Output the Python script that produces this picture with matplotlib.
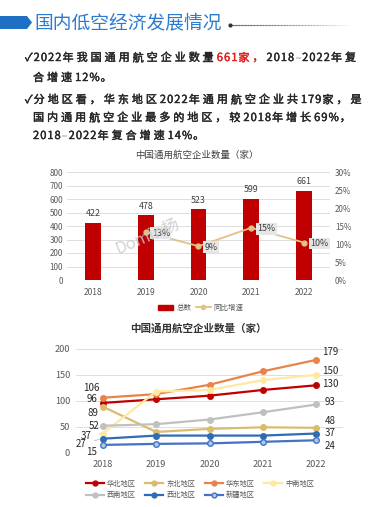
"""Low-altitude economy slide: general aviation company counts."""

import matplotlib

matplotlib.use("Agg")
import matplotlib.patheffects as pe
import matplotlib.pyplot as plt
import numpy as np
from matplotlib.lines import Line2D
from matplotlib.patches import Patch, Polygon

plt.rcParams["font.family"] = ["Noto Sans CJK SC", "DejaVu Sans"]

W, H = 380, 507

# ---- data ----
years = ["2018", "2019", "2020", "2021", "2022"]
total = [422, 478, 523, 599, 661]
growth_years = [1, 2, 3, 4]
growth = [13.3, 9.4, 14.5, 10.4]
growth_labels = ["13%", "9%", "15%", "10%"]

region_names = ["华北地区", "东北地区", "华东地区", "中南地区", "西南地区", "西北地区", "新疆地区"]
north = [96, 103, 110, 121, 130]
northeast = [89, 40, 46, 49, 48]
east = [106, 113, 131, 157, 179]
central_south = [37, 118, 121, 140, 150]
southwest = [52, 55, 64, 78, 93]
northwest = [27, 33, 33, 33, 37]
xinjiang = [15, 17, 18, 21, 24]

title = "国内低空经济发展情况"
chart_title = "中国通用航空企业数量（家）"

# ---- styles ----
region_colors = ["#C00000", "#D9BC6E", "#E8834A", "#FFE9A0", "#C0C0C0", "#2E6DB4", "#4472C4"]
# label offsets in pixels (dx, dy, leader line) for the 2018 and 2022 labels
first_off = [(-11, 4, False), (-10, -6, False), (-11, 10, False), (-17, -2, True),
             (-9, 0, False), (-22, -5, True), (-11, -7, False)]
last_off = [(14, 1, False), (14, 7, True), (14, 8, False), (14, 4, False),
            (14, 2, True), (14, 1, False), (14, -6, True)]

fig = plt.figure(figsize=(W / 100, H / 100), dpi=100)
renderer = fig.canvas.get_renderer()


def fx(px):
    return px / W


def fy(py):
    return 1 - py / H


def spaced(x, y, s, size, color, wide_gap=2.9, narrow_gap=1.0):
    """Draw text one character at a time; CJK glyphs get wider tracking."""
    for ch in s:
        t = fig.text(fx(x), fy(y), ch, fontsize=size, color=color, ha="left",
                     va="center",
                     path_effects=[pe.withStroke(linewidth=0.3, foreground=color)])
        gap = wide_gap if ord(ch) > 0x2FFF else narrow_gap
        x += t.get_window_extent(renderer).width + gap
    return x


# ---- header ----
fig.add_artist(Polygon([(fx(0), fy(16)), (fx(27), fy(16)), (fx(32), fy(22.5)),
                        (fx(27), fy(29)), (fx(0), fy(29))],
                       closed=True, transform=fig.transFigure,
                       facecolor="#1F6FC5", edgecolor="none"))
fig.text(fx(34), fy(23), title, fontsize=13.5, color="#2C7BD0", ha="left", va="center")
n_seg = 40
xs = np.linspace(230, 350, n_seg + 1)
for i in range(n_seg):
    fig.add_artist(Line2D([fx(xs[i]), fx(xs[i + 1])], [fy(25), fy(25)],
                          transform=fig.transFigure, color="#556070",
                          alpha=0.85 * (1 - i / n_seg), lw=0.8))
fig.add_artist(Line2D([fx(230)], [fy(25)], transform=fig.transFigure,
                      marker="o", ms=2, color="#333333"))

# ---- bullet text ----
ink = "#262626"
sz = 8
x = spaced(25, 58, "✓2022年我国通用航空企业数量", sz, ink)
x = spaced(x, 58, "661家，", sz, "#E0201B")
spaced(x, 58, "2018–2022年复", sz, ink)
spaced(33, 78, "合增速12%。", sz, ink)
spaced(25, 100, "✓分地区看，华东地区2022年通用航空企业共179家，是", sz, ink)
spaced(33, 118, "国内通用航空企业最多的地区，较2018年增长69%，", sz, ink)
spaced(33, 136, "2018–2022年复合增速14%。", sz, ink)

grid_c = "#D9D9D9"
tick_c = "#595959"

# ---- chart 1: bars + growth line ----
fig.text(fx(197), fy(155), chart_title, fontsize=6.8, color="#404040", ha="center", va="center")
ax1 = fig.add_axes([fx(66.6), fy(280), 263.8 / W, 108 / H])
xpos = np.arange(len(years))
ax1.bar(xpos, total, width=0.3, color="#C00000", zorder=2)
ax1.set_xlim(-0.5, 4.5)
ax1.set_ylim(0, 800)
ax1.set_yticks(range(0, 801, 100))
ax1.set_xticks(xpos, years)
ax1.grid(axis="y", color=grid_c, lw=0.6)
ax1.set_axisbelow(True)
for s in ax1.spines.values():
    s.set_visible(False)
ax1.tick_params(length=0, labelsize=5.8, labelcolor=tick_c)
ax1.tick_params(axis="y", pad=2.6)
ax1.tick_params(axis="x", pad=5.5, labelsize=6.1)
for i, v in enumerate(total):
    ax1.annotate(str(v), (i, v), xytext=(0, 3.5), textcoords="offset points",
                 ha="center", va="bottom", fontsize=6.4, color="#404040")

ax1b = ax1.twinx()
ax1b.plot(growth_years, growth, color="#E2C285", lw=1.3, marker="o", ms=3.5, zorder=3)
ax1b.set_ylim(0, 30)
ax1b.set_yticks(range(0, 31, 5), [f"{v}%" for v in range(0, 31, 5)])
for s in ax1b.spines.values():
    s.set_visible(False)
ax1b.tick_params(length=0, labelsize=5.8, labelcolor=tick_c, pad=3.3)
for xi, g, lab in zip(growth_years, growth, growth_labels):
    ax1b.annotate(lab, (xi, g), xytext=(6, -1), textcoords="offset pixels",
                  ha="left", va="center", fontsize=6.4, color="#404040",
                  bbox=dict(boxstyle="square,pad=0.15", fc="#E7E6E6", ec="none"))

ax1.legend(handles=[Patch(color="#C00000"),
                    Line2D([], [], color="#E2C285", lw=1.3, marker="o", ms=3)],
           labels=["总数", "同比增速"], loc="center",
           bbox_to_anchor=(fx(201), fy(308)), bbox_transform=fig.transFigure,
           ncol=2, frameon=False, fontsize=5.4, handlelength=2.0,
           handletextpad=0.4, columnspacing=0.6, borderpad=0, borderaxespad=0,
           labelcolor=tick_c)

fig.text(fx(148), fy(237), "Domin杨", rotation=23, fontsize=12, color="#C8C8C8",
         ha="center", va="center", alpha=0.8)

# ---- chart 2: regional lines ----
fig.text(fx(198), fy(329), chart_title, fontsize=7.6, color="#333333", ha="center",
         va="center", weight="bold")
ax2 = fig.add_axes([fx(76), fy(452.7), 267 / W, 103.7 / H])
series = [north, northeast, east, central_south, southwest, northwest, xinjiang]
handles = []
for name, vals, col in zip(region_names, series, region_colors):
    face = "#B4C7E7" if name == "新疆地区" else col
    ax2.plot(xpos, vals, color=col, lw=1.6, marker="o", ms=4, mfc=face, mec=col, zorder=3)
    handles.append(Line2D([], [], color=col, lw=1.6, marker="o", ms=3.5, mfc=face, mec=col))

for vals, (dx, dy, lead), (dx2, dy2, lead2) in zip(series, first_off, last_off):
    for xi, v, ox, oy, ld in [(0, vals[0], dx, dy, lead), (4, vals[-1], dx2, dy2, lead2)]:
        ax2.annotate(str(v), (xi, v), xytext=(ox, oy), textcoords="offset pixels",
                     ha="center", va="center", fontsize=7, color="#262626",
                     arrowprops=dict(arrowstyle="-", color="#BFBFBF", lw=0.6,
                                     shrinkA=4, shrinkB=2) if ld else None)

ax2.set_xlim(-0.5, 4.5)
ax2.set_ylim(0, 200)
ax2.set_yticks(range(0, 201, 50))
ax2.set_xticks(xpos, years)
ax2.grid(axis="y", color=grid_c, lw=0.6)
ax2.set_axisbelow(True)
for s in ax2.spines.values():
    s.set_visible(False)
ax2.tick_params(length=0, labelsize=6.6, labelcolor=tick_c)
ax2.tick_params(axis="y", pad=4.3)
ax2.tick_params(axis="x", pad=5)

# legend fills column by column; reorder so rows read left to right
order = [0, 4, 1, 5, 2, 6, 3]
ax2.legend(handles=[handles[i] for i in order], labels=[region_names[i] for i in order],
           ncol=4, loc="upper left",
           bbox_to_anchor=(fx(86), fy(480)), bbox_transform=fig.transFigure,
           frameon=False, fontsize=5.2, handlelength=2.5, handletextpad=0.4,
           columnspacing=1.3, borderpad=0, borderaxespad=0, labelspacing=0.45,
           labelcolor=tick_c)

fig.savefig("out.png", dpi=100)
